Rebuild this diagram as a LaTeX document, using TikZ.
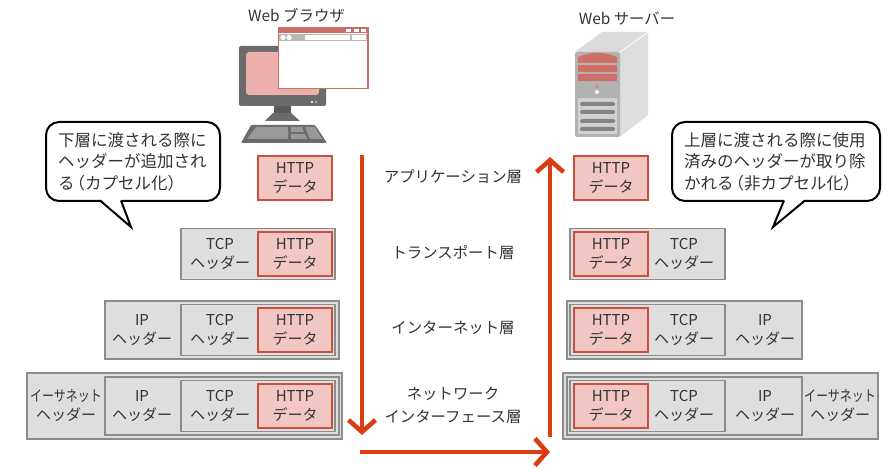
\documentclass[tikz,border=0pt]{standalone}
\usepackage{fontspec}
\setmainfont{Noto Sans CJK JP}
\usepackage{xcolor}
\definecolor{hdrbg}{HTML}{DEDEDE}
\definecolor{hdrln}{HTML}{8C8C8C}
\definecolor{httpbg}{HTML}{F2C6C3}
\definecolor{httpln}{HTML}{C8503F}
\definecolor{arrowred}{HTML}{DC3C14}
\definecolor{inktext}{HTML}{333333}
\definecolor{pcgray}{HTML}{6B6B6B}
\definecolor{pcpink}{HTML}{EDB0AC}
\definecolor{winred}{HTML}{C96F68}
\definecolor{srvred}{HTML}{CF6F68}
\usepackage{tikz}
\usetikzlibrary{arrows.meta,positioning}
\tikzset{
  hdrbox/.style={draw=hdrln,fill=hdrbg,line width=1.6pt,inner sep=0pt},
  httpbox/.style={draw=httpln,fill=httpbg,line width=1.4pt,inner sep=0pt,minimum width=74pt,minimum height=44pt,
    align=center,text=inktext,font=\fontsize{15}{19}\selectfont},
  hdrtext/.style={align=center,inner sep=0pt,text=inktext,font=\fontsize{15}{19}\selectfont},
  layertext/.style={align=center,inner sep=0pt,text=inktext,font=\fontsize{15.4}{23}\selectfont},
  notebox/.style={draw=black,fill=white,line width=2pt,rounded corners=13pt,minimum height=79pt,inner sep=0pt,
    align=left,text=inktext,font=\fontsize{16.5}{21.5}\selectfont},
  flowline/.style={draw=arrowred,line width=3.6pt,-{Straight Barb[length=12pt,width=27pt,line width=4.6pt]}},
}
\newcommand{\ethername}{\scalebox{0.8}[1]{イーサネット}}
\begin{document}
\begin{tikzpicture}[x=1pt,y=-1pt]
\useasboundingbox (0,0) rectangle (895,470);
% monitor and browser window
\fill[pcgray,rounded corners=2pt] (239,46) rectangle (326,106);
\fill[pcpink,rounded corners=3pt] (246,52) rectangle (319,95);
\fill[white] (312,102) circle (1.2);
\fill[pcpink] (316,102) circle (1.2);
\fill[black!65] (274,106) rectangle (291,113);
\fill[pcgray] (273,113) -- (291,113) -- (300,121) -- (265,121) -- cycle;
\fill[pcgray,rounded corners=1pt] (251,125) -- (315,125) -- (327,143) -- (241,143) -- cycle;
\fill[black!40] (256,127) -- (288,127) -- (288,139) -- (247,139) -- cycle;
\fill[black!40] (291,127) -- (302,127) -- (304,132) -- (291,132) -- cycle;
\fill[black!40] (291,134) -- (305,134) -- (307,139) -- (291,139) -- cycle;
\fill[black!40] (305,127) -- (315,127) -- (322,139) -- (310,139) -- cycle;
\draw[winred,fill=white,line width=1.2pt] (278.5,28) rectangle (368,88.5);
\fill[winred] (278.5,28) rectangle (368,33.5);
\foreach \x in {346,353.5,361}{\fill[white] (\x,29) rectangle +(5,2.6);}
\fill[black!28] (279.2,34) rectangle (367.3,41);
\fill[white] (304.5,35) rectangle (350,40);
\fill[white] (351.5,35) rectangle (366,40);
\foreach \x in {283,289}{\fill[white] (\x,37.5) circle (2.6);}
% server
\fill[black!14] (575,52) -- (602,32) -- (648,32) -- (620,52) -- cycle;
\fill[black!13] (620,52) -- (648,32) -- (648,115) -- (620,137) -- cycle;
\draw[white,line width=0.8pt] (620,52) -- (648,32);
\fill[black!30,rounded corners=2pt] (575,52) rectangle (620,137);
\fill[srvred] (578,57) .. controls (590,51.5) and (605,51.5) .. (617,57) -- (617,63) -- (578,63) -- cycle;
\fill[srvred] (578,65) rectangle (617,72);
\fill[srvred] (578,74) rectangle (617,81);
\fill[winred!80] (597,86) circle (2);
\fill[white] (597,92) circle (2);
\fill[black!18] (578,98) rectangle (617,134);
\foreach \y in {104,112,121,129}{\fill[black!48,rounded corners=1.5pt] (580,\y-2) rectangle (615,\y+2);}
% titles and layers
\node[hdrtext,font=\fontsize{15.4}{19}\selectfont] (browsername) at (296.5,15) {Web ブラウザ};
\node[hdrtext,font=\fontsize{15.4}{19}\selectfont] (servername) at (627,19) {Web サーバー};
\node[layertext] (applayer) at (453,177) {アプリケーション層};
\node[layertext] (tcplayer) at (453,253) {トランスポート層};
\node[layertext] (iplayer) at (453,328) {インターネット層};
\node[layertext] (netlayer) at (453,405) {ネットワーク\\インターフェース層};
% notes
\node[notebox,minimum width=174pt,text width=150pt] (leftnote) at (133,161.5) {下層に渡される際に\\ヘッダーが追加され\\る\kern-6pt（カプセル化）};
\fill[white] (100,199) -- (131,227) -- (121,199) -- cycle;
\draw[black,line width=2pt,line join=miter] (100,200.5) -- (131,227) -- (121,200.5);
\node[notebox,minimum width=208pt,text width=184pt] (rightnote) at (776,161.5) {上層に渡される際に使用\\済みのヘッダーが取り除\\かれる\kern-6pt（非カプセル化）};
\fill[white] (784,199) -- (773,227) -- (805,199) -- cycle;
\draw[black,line width=2pt,line join=miter] (784,200.5) -- (773,227) -- (805,200.5);
% left stack
\node[hdrbox,minimum width=315pt,minimum height=66pt] (ethl) at (184.5,406) {};
\node[hdrbox,minimum width=234pt,minimum height=58pt] (ipl4) at (222,406) {};
\node[hdrbox,minimum width=234pt,minimum height=58pt] (ipl3) at (222,330) {};
\foreach \y/\n in {254/a,330/b,406/c}{
  \node[hdrbox,minimum width=154pt,minimum height=51pt] (tcpl\n) at (258,\y) {};
  \node[httpbox] (httpl\n) at (295,\y) {HTTP\\データ};
  \node[hdrtext] (tcptl\n) at (220,\y) {TCP\\ヘッダー};
}
\node[hdrtext] (iptl3) at (142,330) {IP\\ヘッダー};
\node[hdrtext] (iptl4) at (142,406) {IP\\ヘッダー};
\node[hdrtext] (ethtl) at (66,406) {\ethername\\ヘッダー};
\node[httpbox] (httpl) at (295,178) {HTTP\\データ};
% right stack
\node[hdrbox,minimum width=315pt,minimum height=66pt] (ethr) at (720.5,406) {};
\node[hdrbox,minimum width=235pt,minimum height=58pt] (ipr4) at (684.5,406) {};
\node[hdrbox,minimum width=235pt,minimum height=58pt] (ipr3) at (684.5,330) {};
\foreach \y/\n in {254/a,330/b,406/c}{
  \node[hdrbox,minimum width=155pt,minimum height=51pt] (tcpr\n) at (647.5,\y) {};
  \node[httpbox] (httpr\n) at (611,\y) {HTTP\\データ};
  \node[hdrtext] (tcptr\n) at (684,\y) {TCP\\ヘッダー};
}
\node[hdrtext] (iptr3) at (765,330) {IP\\ヘッダー};
\node[hdrtext] (iptr4) at (765,406) {IP\\ヘッダー};
\node[hdrtext] (ethtr) at (840,406) {\ethername\\ヘッダー};
\node[httpbox] (httpr) at (611,178) {HTTP\\データ};
% flow
\coordinate (downstart) at (362,155);
\coordinate (downend) at (362,435);
\coordinate (acrossstart) at (360,452);
\coordinate (acrossend) at (550,452);
\coordinate (upstart) at (550,437);
\coordinate (upend) at (550,157);
\draw[flowline] (downstart) -- (downend);
\draw[flowline] (acrossstart) -- (acrossend);
\draw[flowline] (upstart) -- (upend);
\end{tikzpicture}
\end{document}
